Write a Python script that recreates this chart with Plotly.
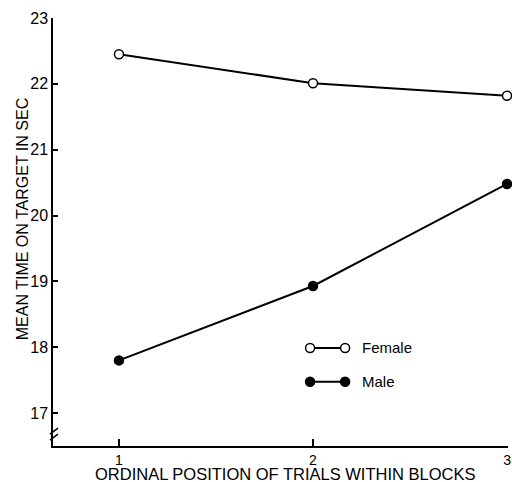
import plotly.graph_objects as go

trials = [1, 2, 3]
female = [22.45, 22.01, 21.82]
male = [17.80, 18.93, 20.48]
x_ticks = [1, 2, 3]
x_tick_text = ["1", "2", "3"]
y_ticks = [17, 18, 19, 20, 21, 22, 23]
x_title = "ORDINAL POSITION OF TRIALS WITHIN BLOCKS"
y_title = "MEAN TIME ON TARGET IN SEC"

FONT = "Liberation Sans, Arial, sans-serif"

fig = go.Figure()
fig.add_trace(go.Scatter(
    x=trials, y=female, mode="lines+markers", name="Female",
    line=dict(color="black", width=2),
    marker=dict(symbol="circle", size=9, color="white", line=dict(color="black", width=1.5)),
    cliponaxis=False, showlegend=False))
fig.add_trace(go.Scatter(
    x=trials, y=male, mode="lines+markers", name="Male",
    line=dict(color="black", width=2),
    marker=dict(symbol="circle", size=9, color="black", line=dict(color="black", width=1.5)),
    cliponaxis=False, showlegend=False))

# custom legend (line with markers at both ends)
legend_items = [("Female", "white", 0.229), ("Male", "black", 0.150)]
for label, fill, yp in legend_items:
    fig.add_shape(type="line", xref="paper", yref="paper",
                  x0=0.565, x1=0.642, y0=yp, y1=yp,
                  line=dict(color="black", width=2))
    for xp in (0.565, 0.642):
        fig.add_shape(type="circle", xref="paper", yref="paper",
                      xsizemode="pixel", ysizemode="pixel",
                      xanchor=xp, yanchor=yp, x0=-4.5, x1=4.5, y0=-4.5, y1=4.5,
                      fillcolor=fill, line=dict(color="black", width=1.5))
    fig.add_annotation(text=label, xref="paper", yref="paper", x=0.675, y=yp,
                       xanchor="left", yanchor="middle", showarrow=False,
                       font=dict(family=FONT, size=15, color="black"))

# axis titles (placed like the original, not centred on the plot)
fig.add_annotation(text=y_title, xref="paper", yref="paper", x=-0.068, y=0.530,
                   xanchor="center", yanchor="middle", textangle=-90, showarrow=False,
                   font=dict(family=FONT, size=16, color="black"))
fig.add_annotation(text=x_title, xref="paper", yref="paper", x=0.510, y=-0.066,
                   xanchor="center", yanchor="middle", showarrow=False,
                   font=dict(family=FONT, size=16.5, color="black"))

# axis break mark
for dy in (-3, 3):
    fig.add_shape(type="line", xref="paper", yref="paper",
                  xsizemode="pixel", ysizemode="pixel",
                  xanchor=0, yanchor=0.03,
                  x0=-3, x1=5, y0=-4 + dy, y1=2 + dy,
                  line=dict(color="black", width=1.5))

fig.update_layout(
    width=512, height=482,
    margin=dict(l=53, r=4, t=18, b=36, autoexpand=False),
    paper_bgcolor="white", plot_bgcolor="white",
    font=dict(family=FONT, color="black"),
    showlegend=False,
    xaxis=dict(
        range=[0.66, 3.005], tickvals=x_ticks, ticktext=x_tick_text,
        ticks="inside", ticklen=7, tickwidth=1.5, tickcolor="black",
        showline=True, linecolor="black", linewidth=1.5, mirror=False,
        showgrid=False, zeroline=False, automargin=False,
        ticklabeloverflow="allow",
        tickfont=dict(family=FONT, size=14),
    ),
    yaxis=dict(
        range=[16.5, 23.0], tickvals=y_ticks,
        ticks="inside", ticklen=5, tickwidth=1.5, tickcolor="black",
        showline=True, linecolor="black", linewidth=1.5, mirror=False,
        showgrid=False, zeroline=False, automargin=False,
        tickfont=dict(family=FONT, size=16),
    ),
)

fig.write_html(
    "out.html",
    config={"displayModeBar": False},
    post_script="document.body.style.margin='0';document.body.style.overflow='hidden';",
)
